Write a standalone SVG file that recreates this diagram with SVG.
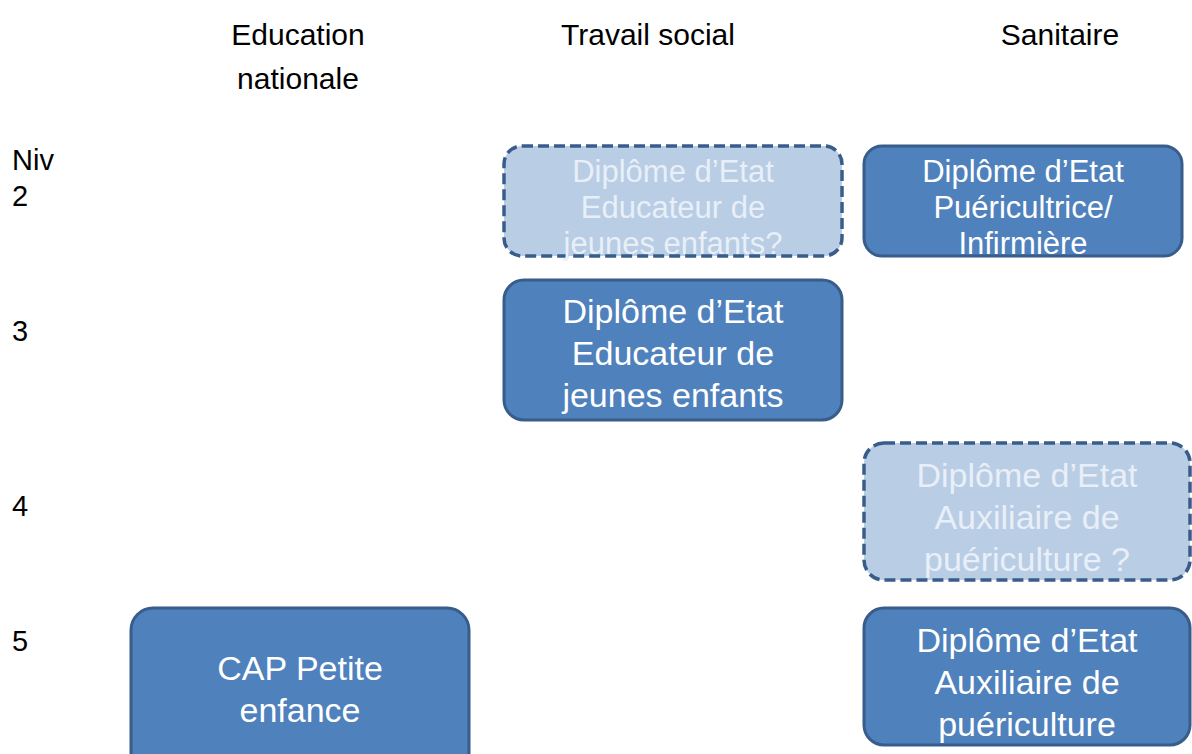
<svg xmlns="http://www.w3.org/2000/svg" width="1192" height="754" viewBox="0 0 1192 754">
<style>
.hdr{font-family:"Liberation Sans",Arial,sans-serif;font-size:30px;fill:#000;text-anchor:middle}
.lvl{font-family:"Liberation Sans",Arial,sans-serif;font-size:29px;fill:#000}
.solid{fill:#4f81bd;stroke:#385d8a;stroke-width:3}
.dash{fill:#b9cde5;stroke:#385d8a;stroke-width:3.5;stroke-dasharray:11 5}
.t{font-family:"Liberation Sans",Arial,sans-serif;font-size:34px;fill:#fff;text-anchor:middle}
.tl{font-family:"Liberation Sans",Arial,sans-serif;font-size:34px;fill:#e8eff8;text-anchor:middle}
.sm{font-size:31px}
</style>
<rect width="1192" height="754" fill="#fff"/>
<g id="headers">
<text class="hdr" x="298" y="45">Education</text>
<text class="hdr" x="298" y="89">nationale</text>
<text class="hdr" x="648" y="45">Travail social</text>
<text class="hdr" x="1060" y="45">Sanitaire</text>
</g>
<g id="levels">
<text class="lvl" x="12" y="170">Niv</text>
<text class="lvl" x="12" y="206">2</text>
<text class="lvl" x="12" y="341">3</text>
<text class="lvl" x="12" y="516">4</text>
<text class="lvl" x="12" y="651">5</text>
</g>
<g id="node-ts-niv2">
<rect class="dash" x="504" y="146" width="338" height="110" rx="18"/>
<text class="tl sm" x="673" y="182">Diplôme d’Etat</text>
<text class="tl sm" x="673" y="218">Educateur de</text>
<text class="tl sm" x="673" y="254">jeunes enfants?</text>
</g>
<g id="node-san-niv2">
<rect class="solid" x="864" y="146" width="318" height="110" rx="18"/>
<text class="t sm" x="1023" y="182">Diplôme d’Etat</text>
<text class="t sm" x="1023" y="218">Puéricultrice/</text>
<text class="t sm" x="1023" y="254">Infirmière</text>
</g>
<g id="node-ts-niv3">
<rect class="solid" x="504" y="280" width="338" height="140" rx="20"/>
<text class="t" x="673" y="323">Diplôme d’Etat</text>
<text class="t" x="673" y="365">Educateur de</text>
<text class="t" x="673" y="407">jeunes enfants</text>
</g>
<g id="node-san-niv4">
<rect class="dash" x="864" y="443" width="326" height="137" rx="20"/>
<text class="tl" x="1027" y="487">Diplôme d’Etat</text>
<text class="tl" x="1027" y="529">Auxiliaire de</text>
<text class="tl" x="1027" y="571">puériculture ?</text>
</g>
<g id="node-san-niv5">
<rect class="solid" x="864" y="608" width="326" height="137" rx="20"/>
<text class="t" x="1027" y="652">Diplôme d’Etat</text>
<text class="t" x="1027" y="694">Auxiliaire de</text>
<text class="t" x="1027" y="736">puériculture</text>
</g>
<g id="node-cap">
<rect class="solid" x="131" y="608" width="338" height="170" rx="22"/>
<text class="t" x="300" y="680">CAP Petite</text>
<text class="t" x="300" y="722">enfance</text>
</g>
<g id="connectors"></g>
</svg>
